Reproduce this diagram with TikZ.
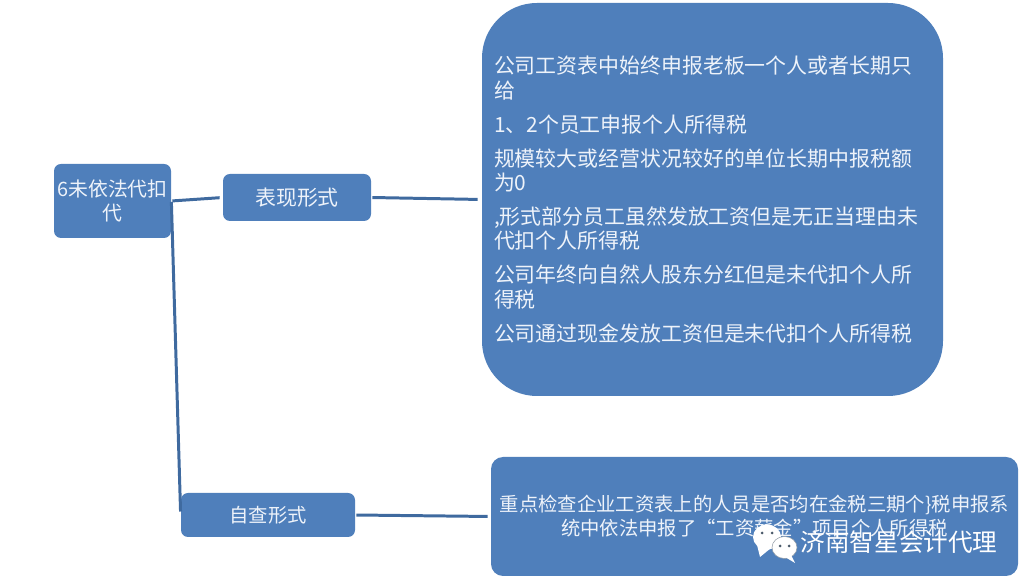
\documentclass[tikz,border=0pt]{standalone}
\usepackage{fontspec}
\setmainfont{Noto Sans CJK SC}
\usepackage{xcolor}
\definecolor{BoxBlue}{HTML}{4F7FBB}
\definecolor{LineBlue}{HTML}{3F6A9F}
\definecolor{TextPale}{HTML}{EEF3FA}
\definecolor{IconEye}{HTML}{4A5A6A}

\begin{document}
\begin{tikzpicture}[
            box/.style={rectangle, rounded corners=0.14cm, fill=BoxBlue, text=TextPale, align=center, inner sep=0pt},
            link/.style={line width=1.7pt, LineBlue},
            bubble/.style={fill=white, draw=IconEye!60, line width=0.3pt}
        ]
            \useasboundingbox (0,0) rectangle (20.66,-11.76);

            % Boxes
            \node[box, minimum width=2.34cm, minimum height=1.48cm, font=\fontsize{11.3}{13.4}\selectfont] (root) at (2.25,-4.02) {6未依法代扣\\代};
            \node[box, minimum width=2.96cm, minimum height=0.94cm, font=\fontsize{11.9}{14}\selectfont] (form) at (5.94,-3.95) {表现形式};
            \node[box, minimum width=3.48cm, minimum height=0.88cm, font=\fontsize{11}{13}\selectfont] (self) at (5.36,-10.30) {自查形式};
            \node[box, rounded corners=1.1cm, align=left, text width=8.74cm, inner xsep=0.24cm, minimum height=7.86cm, font=\fontsize{11.9}{13.9}\selectfont] (forms) at (14.25,-3.99) {公司工资表中始终申报老板一个人或者长期只\\给\\[5.4pt]
                1、2个员工申报个人所得税\\[5.4pt]
                规模较大或经营状况较好的单位长期中报税额\\为0\\[5.4pt]
                ,形式部分员工虽然发放工资但是无正当理由未\\代扣个人所得税\\[5.4pt]
                公司年终向自然人股东分红但是未代扣个人所\\得税\\[5.4pt]
                公司通过现金发放工资但是未代扣个人所得税};
            \node[box, rounded corners=0.24cm, minimum width=10.54cm, minimum height=2.38cm, font=\fontsize{11}{13.6}\selectfont] (check) at (15.09,-10.33) {重点检查企业工资表上的人员是否均在金税三期个\}税申报系\\统中依法申报了“工资薪金”项目个人所得税};

            % Connectors
            \draw[link, shorten <=0.02cm, shorten >=0.06cm] (root.east) -- (form.west);
            \draw[link, shorten <=0.02cm, shorten >=0.07cm] (root.east) -- (self.west);
            \draw[link, shorten <=0.02cm, shorten >=0.08cm] (form.east) -- (forms.west);
            \draw[link, shorten <=0.02cm, shorten >=0.06cm] (self.east) -- (check.west);

            % Watermark
            \fill[white] (15.34,-10.74) ellipse (0.28cm and 0.25cm);
            \fill[white] (15.14,-10.90) -- (15.20,-11.14) -- (15.42,-10.96) -- cycle;
            \filldraw[bubble] (15.69,-10.95) ellipse (0.25cm and 0.22cm);
            \fill[white] (15.82,-11.10) -- (15.90,-11.26) -- (15.70,-11.14) -- cycle;
            \foreach \eyex/\eyey in {15.24/-10.66, 15.44/-10.66, 15.60/-10.92, 15.78/-10.92}
                \fill[IconEye] (\eyex,\eyey) circle (0.03cm);
            \node[text=white, inner sep=0pt, font=\fontsize{14}{16}\selectfont] (mark) at (17.98,-10.84) {济南智星会计代理};
        \end{tikzpicture}
\end{document}
